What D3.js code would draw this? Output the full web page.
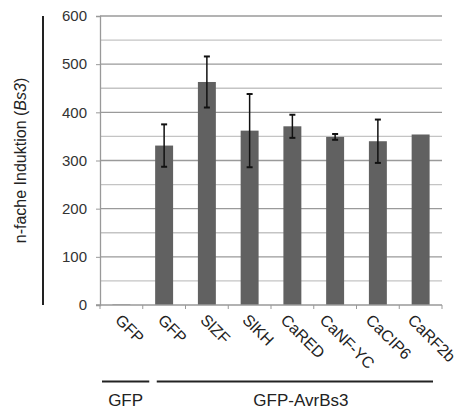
<!DOCTYPE html>
<html>
<head>
<meta charset="utf-8">
<script src="https://cdn.jsdelivr.net/npm/d3@7"></script>
<style>
  body { margin: 0; background: #fff; }
  svg { font-family: "Liberation Sans", Arial, sans-serif; }
</style>
</head>
<body>
<div id="chart"></div>
<script>
// values
let labels = ["GFP", "GFP", "SlZF", "SlKH", "CaRED", "CaNF-YC", "CaCIP6", "CaRF2b"]
let means  = [1, 331, 463, 362, 371, 349, 340, 354]
let errs   = [0, 44, 53, 76, 24, 6, 45, 1]
let yTicks = [0, 100, 200, 300, 400, 500, 600]

let width = 464, height = 410
let margin = {left: 100, right: 22, top: 16, bottom: 105}

let data = labels.map(function(l, i) {
  return {i: i, label: l, mean: means[i], err: errs[i]}
})

let svg = d3.select("#chart")
  .append("svg")
  .attr("width", width)
  .attr("height", height)

let x = d3.scaleBand()
  .domain(d3.range(labels.length))
  .range([margin.left, width - margin.right])
  .paddingInner(0.58)
  .paddingOuter(0.29)

let y = d3.scaleLinear()
  .domain([0, 600])
  .range([height - margin.bottom, margin.top])

let step = (width - margin.right - margin.left) / labels.length
let cx = function(i) { return x(i) + x.bandwidth() / 2 }

// gridlines, minor ones lighter
svg.selectAll(".grid")
  .data(d3.range(50, 601, 50))
  .enter()
  .append("line")
  .attr("x1", margin.left)
  .attr("x2", width - margin.right)
  .attr("y1", d => y(d))
  .attr("y2", d => y(d))
  .attr("stroke", d => d % 100 == 0 ? "#9a9a9a" : "#c4c4c4")
  .attr("stroke-width", 1.3)

// y axis
svg.append("g")
  .attr("transform", "translate(" + margin.left + ",0)")
  .call(d3.axisLeft(y).tickValues(yTicks).tickSize(4).tickPadding(9))
  .call(g => g.select(".domain").attr("stroke", "#999").attr("stroke-width", 1.3))
  .call(g => g.selectAll(".tick line").attr("stroke", "#999"))
  .call(g => g.selectAll("text").attr("font-size", 15).attr("fill", "#333"))

// bars
svg.selectAll(".bar")
  .data(data)
  .enter()
  .append("rect")
  .attr("x", d => x(d.i))
  .attr("width", x.bandwidth())
  .attr("y", d => y(d.mean))
  .attr("height", d => y(0) - y(d.mean))
  .attr("fill", "#616161")

// error bars
let eb = svg.selectAll(".err")
  .data(data.filter(d => d.err > 2))
  .enter()
  .append("g")
eb.append("line")
  .attr("x1", d => cx(d.i))
  .attr("x2", d => cx(d.i))
  .attr("y1", d => y(d.mean - d.err))
  .attr("y2", d => y(d.mean + d.err))
  .attr("stroke", "#111")
  .attr("stroke-width", 1.5)
eb.selectAll(".cap")
  .data(d => [[d.i, d.mean + d.err], [d.i, d.mean - d.err]])
  .enter()
  .append("line")
  .attr("x1", d => cx(d[0]) - 3)
  .attr("x2", d => cx(d[0]) + 3)
  .attr("y1", d => y(d[1]))
  .attr("y2", d => y(d[1]))
  .attr("stroke", "#111")
  .attr("stroke-width", 2)

// x axis line and ticks at category boundaries
svg.append("line")
  .attr("x1", margin.left - 4)
  .attr("x2", width - margin.right)
  .attr("y1", y(0))
  .attr("y2", y(0))
  .attr("stroke", "#999")
  .attr("stroke-width", 1.3)
svg.selectAll(".xt")
  .data(d3.range(labels.length + 1))
  .enter()
  .append("line")
  .attr("x1", d => margin.left + d * step)
  .attr("x2", d => margin.left + d * step)
  .attr("y1", y(0))
  .attr("y2", y(0) + 4)
  .attr("stroke", "#999")

// rotated category labels, longer ones pulled left a bit (like excel does)
svg.selectAll(".xl")
  .data(data)
  .enter()
  .append("text")
  .attr("font-size", 16)
  .attr("fill", "#222")
  .text(d => d.label)
  .attr("transform", function(d) {
    let len = this.getComputedTextLength()
    return "translate(" + (cx(d.i) + 1 - 0.25 * len) + "," + (y(0) + 16) + ") rotate(45)"
  })

// y axis title with the line beside it
svg.append("text")
  .attr("transform", "translate(26," + ((y(0) + y(600)) / 2) + ") rotate(-90)")
  .attr("text-anchor", "middle")
  .attr("font-size", 16)
  .attr("fill", "#222")
  .html('n-fache Induktion (<tspan font-style="italic">Bs3</tspan>)')
svg.append("line")
  .attr("x1", 43).attr("x2", 43)
  .attr("y1", y(600)).attr("y2", y(0))
  .attr("stroke", "#222")
  .attr("stroke-width", 2)

// group brackets underneath
let groups = [
  {name: "GFP", x1: margin.left + 2, x2: margin.left + step + 6.5},
  {name: "GFP-AvrBs3", x1: margin.left + step + 14, x2: width - margin.right - 9}
]
svg.selectAll(".grp")
  .data(groups)
  .enter()
  .append("line")
  .attr("x1", d => d.x1)
  .attr("x2", d => d.x2)
  .attr("y1", 381.5)
  .attr("y2", 381.5)
  .attr("stroke", "#222")
  .attr("stroke-width", 2)
svg.selectAll(".grpl")
  .data(groups)
  .enter()
  .append("text")
  .attr("x", (d, i) => (d.x1 + d.x2) / 2 + (i == 1 ? 6 : 0))
  .attr("y", 406)
  .attr("text-anchor", "middle")
  .attr("font-size", 17)
  .attr("fill", "#222")
  .text(d => d.name)
</script>
</body>
</html>
